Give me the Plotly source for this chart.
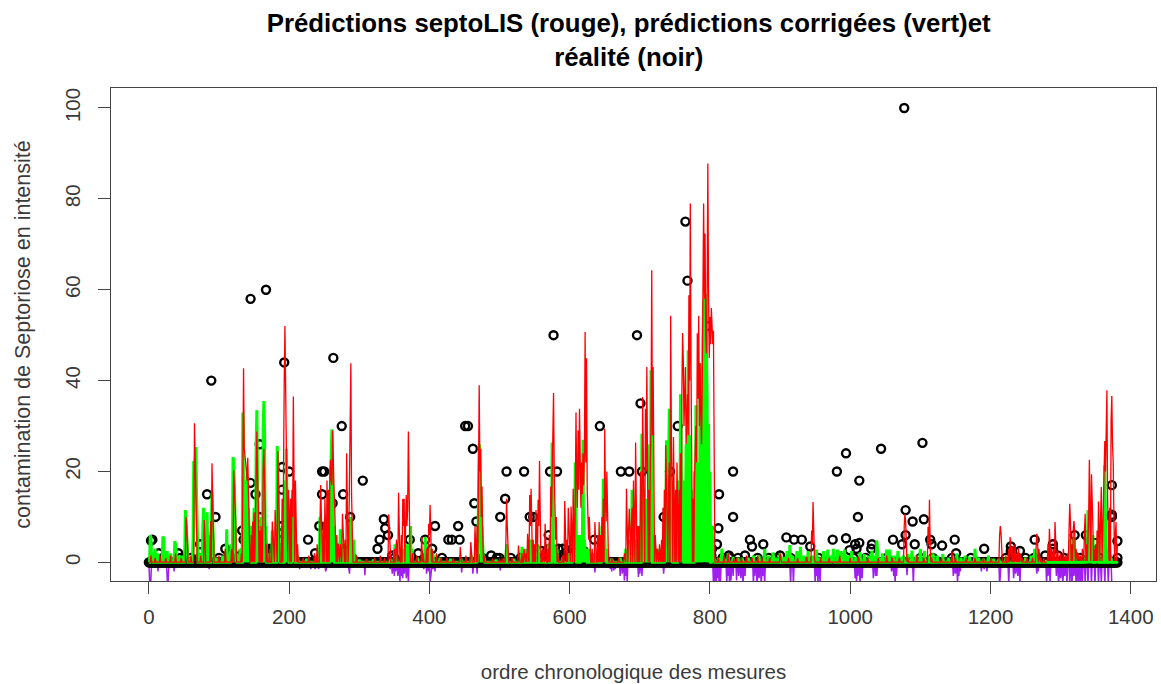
import plotly.graph_objects as go

title_text = "<b>Prédictions septoLIS (rouge), prédictions corrigées (vert)et<br>réalité (noir)</b>"
x_label = "ordre chronologique des mesures"
y_label = "contamination de Septoriose en intensité"
x_ticks = [0, 200, 400, 600, 800, 1000, 1200, 1400]
y_ticks = [0, 20, 40, 60, 80, 100]

measure_count = 1382

real_x = [3,5,14,42,73,83,89,95,109,133,135,145,145,148,152,158,158,163,167,190,190,190,190,193,200,
227,237,243,247,247,250,262,263,270,275,277,287,305,326,329,335,337,341,347,372,384,394,404,408,427,
432,441,443,451,455,462,464,467,501,508,510,535,543,548,570,572,577,582,635,643,673,685,696,701,703,
734,743,754,755,757,762,765,768,772,774,788,792,793,796,810,812,813,827,833,833,850,857,860,876,900,
909,920,931,943,975,981,994,994,999,1007,1009,1011,1013,1013,1030,1031,1044,1061,1074,1077,1079,1079,1089,1092,1103,
1105,1114,1116,1131,1149,1151,1191,1229,1229,1242,1263,1289,1289,1320,1336,1349,1373,1373,1373,1381,1381]
real_y = [4.8,5,2,2,4,15,40,10,3,7,5,58,17.5,5,15,26,10,3.5,60,21,16,8,6.5,44,20,
5,2,8,20,15,20,13,45,3,30,15,10,18,3,5,9.5,7.5,6,1.5,5,2,5,3,8,5,
5,8,5,30,30,25,13,9,10,14,20,20,10,10,6,20,50,20,5,30,20,20,50,35,20,
10,20,30,5,2.5,10,75,62,5,1.5,12,8,5,52,4,7.5,15,1.5,20,10,1.5,5,3.5,4,1.5,
5.5,5,5,3.5,5,20,24,5.3,2.7,4,3,10,18,4.3,3,4,25,5,4,100,11.5,6,9,4,26.3,
9.5,5,4,3.7,5,2,3,3.5,2.5,2.5,5,4,3,6,6,4.3,17,10.5,10,4.7,1]

low_x = [20,45,60,72,80,100,112,118,128,131,134,137,140,143,146,149,152,155,158,161,164,167,170,173,176,179,182,185,188,191,194,197,200,203,206,
252,256,260,265,270,275,280,285,290,350,375,400,418,476,488,496,500,516,530,560,566,571,578,584,590,597,604,612,620,
736,742,748,754,760,766,772,778,782,785,788,790,793,795,798,800,803,818,828,840,868,884,895,915,955,988,1005,1022,1052,
1100,1118,1145,1172,1222,1232,1250,1262,1278,1296,1305,1318,1328,1345,1356,1366,
130,135,139,144,148,151,156,160,163,166,169,172,175,178,181,184,187,190,193,196,
255,262,268,273,278,283,740,746,752,758,764,770,776,780,784,787,789,791,794,797,799,802,
563,569,575,581,587,593,600,608]
low_y = [1,1,1,1,1,1,1,1,1,1.5,2,2,2.5,2.5,3,3,3.5,3,4,4,3.5,3,2,3,2.5,2,3,2.5,3,2.5,2,2,1.5,1,1,
1.5,2,2.5,2,2.5,3,2.5,2,1,1,1,1,1,1,1.5,1,1,1,1,2.5,2,3,2,3,3,2.5,3,2,2.5,
2,3,2,3,3,2,3,4,4,5,4,6,5,6,5,5,3,1,1,1,1,1,1,1,1,1,1,1,1,
1,1,1,1,1,1.5,1,1,1.5,1.5,1,1.5,1,1.5,1,1,
0.8,1,1,1.2,1.5,1.5,1.8,2,2,1.5,1,1.5,1.2,1,1.5,1.2,1.5,1.2,1,1,
1,1.2,1,1.5,1.2,1,1,1.5,1,1.5,1.5,1,1.5,2,2,2.5,2,3,2.5,3,2.5,1.5,
1,1.5,1,1.5,1.5,1,1.5,1]

red_x = [3,9,16,24,31,38,46,53,54,55,
60,65,66,67,68,74,79,80,88,90,
91,92,100,109,118,121,122,123,124,132,
134,135,136,137,138,139,140,141,142,143,
146,148,150,152,153,154,155,156,158,160,
163,164,165,166,168,172,176,177,180,181,
184,185,186,190,192,193,194,195,196,197,
199,200,202,204,205,206,207,209,210,212,
220,228,236,240,244,245,246,247,249,251,
254,256,258,259,260,261,262,263,264,265,
268,270,273,276,277,280,282,283,285,286,
287,288,289,290,296,310,322,330,336,342,
343,344,350,353,356,357,360,362,363,364,
366,367,368,369,370,371,372,376,382,389,
391,396,399,400,401,402,404,410,416,425,
434,444,445,452,459,460,465,466,468,470,
471,472,473,474,475,476,478,490,500,505,
509,510,511,512,518,527,528,532,535,538,
540,543,544,545,546,548,550,552,553,555,
556,557,558,560,562,565,566,569,571,573,
574,575,576,577,578,579,580,581,583,590,
593,594,596,598,599,602,603,605,606,608,
609,610,611,612,613,614,615,616,617,618,
619,620,621,622,623,624,625,626,627,628,
629,632,636,637,640,642,644,646,648,650,
651,652,653,654,655,660,670,678,681,682,
684,685,686,688,689,691,692,694,695,697,
699,701,702,704,705,706,708,709,710,711,
713,715,716,717,718,719,720,722,725,728,
731,733,735,737,738,739,741,742,744,745,
746,748,749,751,753,754,756,758,760,761,
762,763,764,765,766,767,768,769,770,771,
772,773,774,776,778,779,780,781,782,783,
784,785,786,787,788,789,790,791,792,793,
794,795,796,797,798,799,800,801,802,803,
804,805,806,812,820,826,834,838,845,852,
860,868,874,885,900,901,912,925,938,945,
946,947,948,949,958,970,985,1000,1012,1025,
1040,1052,1060,1070,1077,1078,1079,1080,1082,1095,
1105,1111,1112,1113,1114,1116,1130,1145,1150,1165,
1178,1190,1201,1213,1214,1215,1216,1222,1226,1228,
1229,1231,1233,1235,1238,1240,1242,1245,1252,1260,
1265,1266,1267,1269,1272,1276,1282,1284,1285,1287,
1290,1292,1293,1296,1300,1304,1307,1310,1312,1313,
1314,1316,1318,1319,1320,1322,1325,1328,1331,1334,
1335,1337,1339,1340,1341,1342,1344,1345,1346,1348,
1350,1352,1354,1355,1357,1358,1360,1361,1362,1363,
1364,1365,1366,1367,1368,1370,1372,1373,1374,1375,
1376,1378,1379,1381]
red_y = [1.5,1,1.5,1,1.5,2,1,10,8,3,
1.5,30.6,21.8,15,8,1.5,9.3,5,9,21.8,
14,8,1.5,3,3,20.3,17,14,8,2,
20,42.7,25,24,22,20,18,23,12,8,
6,9,11,14,16,28.8,18,13,7,8,
20,25,18,9,4,3,9,5,11.5,7,
24.5,15,9,14,34,40,52,33,22,12,
16,11,14,16,10,36.5,14,18,10,4,
1,1.5,2,4,12,17,10,6,9,14,
18,16,20,22.6,18,17,29,20,16,12,
6,4,4,10.7,6,5,24,10,5,15,
27,43.8,15,6,1.5,0.8,1,1.5,1,10.6,
6,2,3,5,15.3,6,6,14,8,14,
10,14.8,8,12,28.8,10,5,2,1.5,5.6,
2,3,8.5,6,12.6,7,3,2,1,1,
1,3.4,1,1.5,4.5,1.5,7.8,4,8,20,
39,20,25,10,16.7,6,1.5,0.8,0.8,1,
4,14,8,3,1,3.7,1,2,3,2,
6.3,14.8,8,16.2,9,5,4,11.5,6,13.8,
8,22.3,7,2.5,3,8.5,3,3,6,16.7,
10,18,24,37.3,20,8,5,10,2,1.5,
13.5,7,5,12,6,12.3,7,16.2,9,14,
33,18,12,29,16,33.8,17,12,22,15,
24,17,24,50.7,22,44.9,16,8,5,10,
4,3,8.9,4,6,8.9,6,10,14,29.4,
14,9,20,8,3,1,1,2,16.2,9,
7,11.8,7,8,12,18,9,26.4,12,8,
8,20,16,36.4,22,14,33.8,20,43,24,
16,22,30,64.3,28,43,18,6,3,4,
5,12,16,25.8,14,12,16.6,22,54.3,28,
18,27.6,14,16,22,12,16,24,38,50.5,
44.5,30,36,43,26,30,37,28,58.8,40,
79,44,22,14,18,24,30,22,50.4,36,
54.3,30,43.8,34,26,40,60,79,58,72.4,
50,46,60,87.8,59,45,54,48,56,50,
48,51,2,1,1.5,2,1,1,1,1.5,
1,1.5,1,1,2,0.7,1,1,1.2,7,
4,13.3,5,1,1,1,1.5,1,1.2,1,
1,1.5,1,1,8,10.7,9,3,1,1.5,
1,7.8,4,13.8,4,1,1,2.5,1,1,
1,1,1,6,8,6.5,1.5,1.5,3,5.6,
2,3.5,2,4,2,3,2,1,1,1,
5,6.3,5.5,3,1,1,4,7.4,3,3,
3,8.9,3,2.5,2,3,1.5,2,7,12.9,
9,4,7,9.1,7,3,2,1.5,3,7,
10.7,4,6,10,22.6,12,19.4,15,8,3,
4,7,13.4,8,10,16.6,8,14,18,26.7,
20,33.5,37.9,14,8,12,31.4,36.6,26,22,
10,6,8.9,4]

green_x = [2,3,5,9,13,20,21,22,26,31,
37,38,39,43,47,52,53,54,55,58,
63,64,65,66,67,68,69,72,77,78,
80,83,85,89,90,91,92,96,105,111,
113,117,120,121,122,123,125,130,134,135,
137,140,142,145,150,153,154,155,157,160,
163,164,165,167,172,176,178,183,184,186,
190,194,196,197,199,204,206,208,212,225,
240,244,246,250,255,258,260,261,262,264,
268,273,275,280,284,288,292,294,300,320,
345,351,353,362,368,373,375,383,394,396,
400,405,415,430,445,460,468,470,471,472,
473,475,478,495,510,511,520,532,534,538,
545,547,555,560,570,575,576,578,582,590,
600,604,606,608,609,612,616,619,621,624,
628,635,642,646,648,649,652,660,672,680,
685,689,691,695,700,703,704,707,710,712,
714,716,717,720,725,732,736,738,739,741,
742,743,746,750,755,758,759,762,766,769,
771,775,778,780,782,784,786,788,790,791,
792,794,795,796,798,800,803,806,812,817,
820,826,833,840,846,855,862,870,878,884,
890,895,900,905,910,914,918,924,929,934,
940,946,952,957,962,968,973,976,982,987,
992,997,1002,1008,1014,1020,1026,1031,1035,1038,
1041,1046,1052,1056,1062,1068,1072,1076,1082,1088,
1094,1100,1106,1112,1118,1124,1132,1140,1146,1152,
1158,1164,1170,1178,1183,1190,1197,1204,1212,1222,
1232,1240,1250,1258,1263,1265,1270,1280,1295,1313,
1315,1319,1322,1330,1336,1339,1340,1342,1344,1346,
1350,1352,1354,1358,1363,1364,1365,1369,1370,1372,1381]
green_y = [6,5.5,2,3,2,5.7,5.4,2,2.5,2,
4.7,4,2,1.5,1.5,11.5,9,5,2,1,
5,22.3,18,24,25.4,15,4,2,8,12,
7,11,6,10,15.3,9,3,1,1.5,7.3,
2,4,23.2,22,17,8,2,3,33,14,
8,19,12,8,12,26,33.5,18,8,10,
30,35.5,28,8,2,7,2,25.6,16,4,
8,18,25,12,5,8,14,6,1.5,0.8,
2,10,6,4,5,10,24,29.3,18,8,
3,7.3,4,3,5,10,5,1,0.6,0.6,
0.8,4,1.5,3,4,8,3,1,5.6,2,
3,2,1,0.8,0.8,1.5,5,15,26,25,
14,8,1,0.6,4,1,0.8,3.4,1,3,
5,2,4,1,4,26.4,15,4,3,1,
2,2,4,22,5,6,6,27,5,3,
3,2,5,8,18.4,10,3,0.8,1,3,
5,16,6,5,8,28.3,16,10,14,13,
26,42.3,20,6,3,2,12,26.9,14,20,
33.8,15,8,10,18,37,22,18,26,46.7,
28,16,20,34.6,22,20,43.8,30,48,58,
50,59,44,36,30.5,20,8,1,1,3,
1,2,1.2,1,1,1,1.5,1.5,3,1.5,
2.2,1,2,1.2,2.5,3.8,1.5,2.5,3.4,1.5,
2.5,1.5,2.8,1,2.5,2.8,1.5,3,2.8,2.5,
2.8,1.5,2.5,1.2,2.2,1.8,1.5,2.6,1.5,4.8,
1,2,2.8,2.8,1.5,2.5,1.2,1.5,1.8,2.6,
1.5,3,2.5,1.5,2,1.5,1.8,1,1.5,2,
1,1.5,1.2,3,1,0.8,1.5,0.8,0.8,1,
1.5,2,1,1.5,3,2,0.6,0.5,0.5,5.2,
1.5,5.5,1,0.5,1.5,11.5,2,11,4,6,
2,4,6,1,21.4,8,1,2,3.4,1,0.3]

green_rest_x = [1280, 1381]
green_rest_y = [0, 0]

purple_x = [1,2,3,13,26,27,28,36,86,166,215,231,234,237,242,252,253,272,285,286,308,
344,347,350,352,355,358,360,362,364,367,370,392,396,399,401,402,405,408,
446,462,468,482,501,529,579,586,598,636,658,660,663,665,672,675,678,680,682,698,700,703,722,734,745,
805,807,809,811,813,815,824,826,828,830,833,838,841,844,847,850,862,864,867,870,873,876,878,
915,919,950,952,954,957,1007,1009,1011,1014,1017,1033,1036,1038,1045,1059,1062,1064,1066,1081,1090,1111,
1147,1150,1153,1155,1157,1175,1187,1191,1195,1213,1214,1226,1233,1236,1239,1242,1266,1268,
1280,1282,1285,1294,1297,1300,1303,1306,1309,1313,1316,1319,1322,1325,1328,1331,1335,
1339,1344,1349,1354,1358,1363,1368,1373]
purple_y = [-6,-8,-3,-2,-3,-6,-2,-2,-1.5,-1,-1.5,-1.5,-1.2,-1.5,-1.5,-2,-1.5,-1.2,-1.5,-2.5,-2.8,
-1.5,-2.5,-3,-2,-3,-4.5,-3,-3.5,-2.5,-3.5,-5,-1.5,-2.5,-2,-4.5,-3,-1.5,-2,
-2.2,-2.5,-2.5,-1.2,-1.8,-1.2,-1.2,-1,-1.2,-2.2,-1.5,-2,-1.8,-1.5,-3,-2.5,-4,-3,-4.5,-3.2,-2.5,-3,-1.2,-2.5,-1.2,
-5,-4.5,-5,-3.5,-5,-4.5,-5,-3,-5,-4,-3,-4,-3,-3.5,-5,-3,-5,-3,-5,-3.5,-5,-3,-5,
-5,-5,-5,-3,-5,-5,-3.5,-5,-3,-5,-3.5,-3.5,-3,-3,-1.2,-2,-3,-5,-3,-2.8,-5,-1.2,
-3,-2.5,-5,-3,-2,-1.2,-2,-1.5,-2,-5,-3,-5,-3.5,-2.5,-3,-5,-2.5,-2,
-5,-3,-5,-3,-5,-3.5,-5,-3,-5,-5,-5,-3,-5,-5,-5,-5,-5,
-5,-5,-5,-5,-5,-5,-5,-5]

zero_x = list(range(measure_count))
zero_y = [0] * measure_count


def with_baseline(xs, ys, base):
    """Return to the resting level between measures that are not neighbours."""
    assert len(xs) == len(ys), (len(xs), len(ys))
    out_x, out_y = [0], [base]
    for x, y in zip(xs, ys):
        gap = x - out_x[-1]
        if gap > 1:
            out_x.append(out_x[-1] + 1)
            out_y.append(base)
        if gap > 2:
            out_x.append(x - 1)
            out_y.append(base)
        out_x.append(x)
        out_y.append(y)
    return out_x, out_y


assert len(real_x) == len(real_y), (len(real_x), len(real_y))
assert len(low_x) == len(low_y), (len(low_x), len(low_y))

fig = go.Figure()

px, py = with_baseline(purple_x, purple_y, 0)
fig.add_trace(go.Scatter(x=px, y=py, mode="lines", line=dict(color="#a020f0", width=1.5), showlegend=False))

circle = dict(symbol="circle-open", size=8, color="black", line=dict(color="black", width=2.4))
fig.add_trace(go.Scatter(x=zero_x, y=zero_y, mode="markers", marker=circle, showlegend=False))
fig.add_trace(go.Scatter(x=low_x, y=low_y, mode="markers", marker=circle, showlegend=False))
fig.add_trace(go.Scatter(x=real_x, y=real_y, mode="markers", marker=circle, showlegend=False))

gx, gy = with_baseline(green_x, green_y, 0)
fig.add_trace(go.Scatter(x=gx, y=gy, mode="lines", line=dict(color="#00ff00", width=3), showlegend=False))

rx, ry = with_baseline(red_x, red_y, 0.05)
fig.add_trace(go.Scatter(x=rx, y=ry, mode="lines", line=dict(color="#ff0000", width=1.3), showlegend=False))

fig.add_trace(go.Scatter(x=green_rest_x, y=green_rest_y, mode="lines", line=dict(color="#00ff00", width=2.5), showlegend=False))

axis_font = dict(family="Liberation Sans, Arial, sans-serif", size=20.5, color="#3a3a3a")
y_title_font = dict(family="Liberation Sans, Arial, sans-serif", size=21.5, color="#3a3a3a")
fig.update_layout(
    width=1161,
    height=684,
    margin=dict(l=111, r=5, t=88, b=103),
    paper_bgcolor="white",
    plot_bgcolor="white",
    font=axis_font,
    title=dict(
        text=title_text,
        x=0.5415,
        xanchor="center",
        y=0.953,
        yanchor="top",
        font=dict(family="Liberation Sans, Arial, sans-serif", size=25.8, color="black"),
    ),
)
fig.update_xaxes(
    range=[-54, 1436],
    tickvals=x_ticks,
    ticks="outside",
    ticklen=12,
    tickwidth=1,
    tickcolor="#444444",
    ticklabelstandoff=5,
    showline=True,
    linecolor="#444444",
    linewidth=1,
    mirror=True,
    showgrid=False,
    zeroline=False,
    title=dict(text=x_label, font=axis_font, standoff=38),
    tickfont=axis_font,
)
fig.update_yaxes(
    range=[-4.1, 104.4],
    tickvals=y_ticks,
    tickangle=-90,
    ticks="outside",
    ticklen=12,
    tickwidth=1,
    tickcolor="#444444",
    ticklabelstandoff=10,
    showline=True,
    linecolor="#444444",
    linewidth=1,
    mirror=True,
    showgrid=False,
    zeroline=False,
    title=dict(text=y_label, font=y_title_font, standoff=24),
    tickfont=axis_font,
)

fig.write_html("out.html", post_script="document.body.style.margin='0';", config={"displayModeBar": False})
